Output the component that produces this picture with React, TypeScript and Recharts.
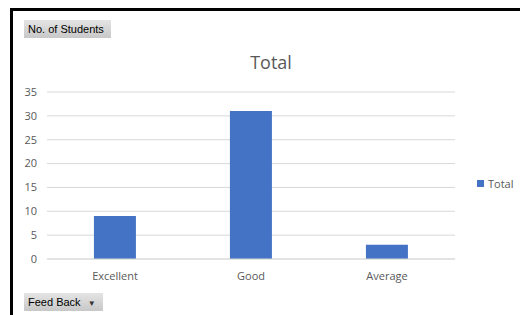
import { Bar, BarChart, CartesianGrid, XAxis, YAxis } from "recharts"

const categories = ["Excellent", "Good", "Average"]
const totals = [9, 31, 3]
const yTicks = [0, 5, 10, 15, 20, 25, 30, 35]

const data = categories.map((name, i) => ({ name, Total: totals[i] }))

const font = "'Open Sans', 'Noto Sans', sans-serif"
const grey = "#595959"
const barColor = "#4472C4"

const buttonStyle: React.CSSProperties = {
  position: "absolute",
  height: 18,
  lineHeight: "18px",
  padding: "0 7px 0 4px",
  fontFamily: "'Liberation Sans', Arial, sans-serif",
  fontSize: 11,
  color: "#000",
  background: "linear-gradient(#e4e4e4, #c8c8c8)",
  boxSizing: "border-box",
  whiteSpace: "nowrap",
}

export default function App() {
  return (
    <div
      style={{
        position: "absolute",
        left: 0,
        top: 0,
        width: 520,
        height: 315,
        background: "#fff",
        overflow: "hidden",
      }}
    >
      <div
        style={{
          position: "absolute",
          left: 10,
          top: 8,
          width: 520,
          height: 320,
          borderLeft: "3px solid #000",
          borderTop: "3px solid #000",
        }}
      />
      <div style={{ ...buttonStyle, left: 24, top: 20 }}>No. of Students</div>
      <div style={{ ...buttonStyle, left: 24, top: 293 }}>
        Feed Back <span style={{ fontSize: 8, marginLeft: 4, color: "#333" }}>▼</span>
      </div>
      <div
        style={{
          position: "absolute",
          left: 0,
          width: 542,
          top: 50,
          textAlign: "center",
          fontFamily: font,
          fontSize: 18,
          color: grey,
        }}
      >
        Total
      </div>
      <div
        style={{
          position: "absolute",
          left: 477,
          top: 176,
          fontFamily: font,
          fontSize: 11,
          color: grey,
          display: "flex",
          alignItems: "center",
        }}
      >
        <span
          style={{ width: 7, height: 7, background: barColor, marginRight: 4, display: "inline-block" }}
        />
        Total
      </div>
      <div style={{ position: "absolute", left: 0, top: 0 }}>
        <BarChart
          width={520}
          height={315}
          data={data}
          margin={{ top: 92, right: 65, bottom: 26, left: 27 }}
          barCategoryGap="34.5%"
        >
          <CartesianGrid vertical={false} stroke="#d9d9d9" />
          <XAxis
            dataKey="name"
            axisLine={{ stroke: "#d9d9d9" }}
            tickLine={false}
            tickSize={0}
            tickMargin={13}
            height={30}
            tick={{ fill: grey, fontSize: 11, fontFamily: font }}
          />
          <YAxis
            domain={[0, 35]}
            ticks={yTicks}
            axisLine={false}
            tickLine={false}
            tickSize={0}
            tickMargin={10}
            width={20}
            tick={{ fill: grey, fontSize: 11, fontFamily: font }}
          />
          <Bar dataKey="Total" fill={barColor} isAnimationActive={false} />
        </BarChart>
      </div>
    </div>
  )
}
